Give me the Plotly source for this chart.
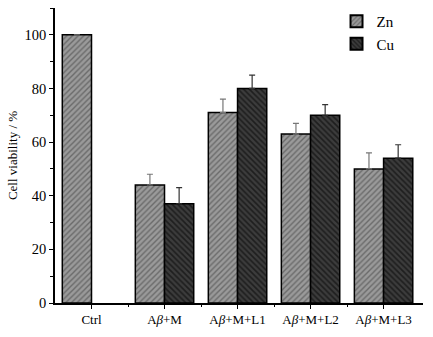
import plotly.graph_objects as go

categories = ["Ctrl", "A<i>β</i>+M", "A<i>β</i>+M+L1", "A<i>β</i>+M+L2", "A<i>β</i>+M+L3"]
zn_values = [100, 44, 71, 63, 50]
zn_errors = [0, 4, 5, 4, 6]
cu_values = [None, 37, 80, 70, 54]
cu_errors = [0, 6, 5, 4, 5]
y_ticks = [0, 20, 40, 60, 80, 100]

font = "'Liberation Serif', 'Times New Roman', serif"

fig = go.Figure()
fig.add_trace(go.Bar(
    name="Zn", x=categories, y=zn_values,
    marker=dict(color="#8a8a8a", line=dict(color="black", width=1.5),
                pattern=dict(shape="/", fgcolor="#3a3a3a", bgcolor="#9a9a9a", size=4, solidity=0.35)),
    error_y=dict(type="data", symmetric=False, array=zn_errors, arrayminus=[0]*5,
                 color="#777777", thickness=1.2, width=3),
))
fig.add_trace(go.Bar(
    name="Cu", x=categories, y=cu_values,
    marker=dict(color="#1a1a1a", line=dict(color="black", width=1.5),
                pattern=dict(shape="\\", fgcolor="#000000", bgcolor="#3c3c3c", size=4, solidity=0.4)),
    error_y=dict(type="data", symmetric=False, array=cu_errors, arrayminus=[0]*5,
                 color="#333333", thickness=1.2, width=3),
))
# invisible trace to drive the boundary (minor) tick axis
fig.add_trace(go.Scatter(x=[0], y=[0], xaxis="x2", mode="markers",
                         marker=dict(opacity=0), showlegend=False, hoverinfo="skip"))

fig.update_layout(
    width=433, height=337,
    margin=dict(l=55, r=10, t=5, b=34),
    paper_bgcolor="white", plot_bgcolor="white",
    barmode="group", bargap=0.2, bargroupgap=0,
    font=dict(family=font, size=12, color="black"),
    legend=dict(x=0.765, y=1.01, xanchor="left", yanchor="top",
                font=dict(family=font, size=15), bgcolor="rgba(0,0,0,0)",
                itemsizing="constant", itemwidth=30, tracegroupgap=0),
    xaxis=dict(
        range=[-0.5, 4.54], showline=True, linecolor="black", linewidth=1.5,
        ticks="outside", ticklen=4, tickcolor="black", tickwidth=1.2,
        tickfont=dict(family=font, size=13), showgrid=False, zeroline=False,
    ),
    xaxis2=dict(
        overlaying="x", side="bottom", range=[-0.5, 4.54],
        tickvals=[0.5, 1.5, 2.5, 3.5], ticks="outside", ticklen=3,
        tickcolor="black", tickwidth=1, showticklabels=False,
        showgrid=False, zeroline=False, showline=False, anchor="y",
    ),
    yaxis=dict(
        range=[0, 110], showline=True, linecolor="black", linewidth=1.5,
        ticks="outside", ticklen=4, tickcolor="black", tickwidth=1.2,
        tickvals=y_ticks, tickfont=dict(family=font, size=14.5),
        minor=dict(dtick=10, ticks="outside", ticklen=3, tickcolor="black"),
        showgrid=False, zeroline=False,
        title=dict(text="Cell viability / %", font=dict(family=font, size=13), standoff=4),
    ),
)

fig.write_html("out.html", config={"displayModeBar": False},
               post_script="document.body.style.margin='0';")
